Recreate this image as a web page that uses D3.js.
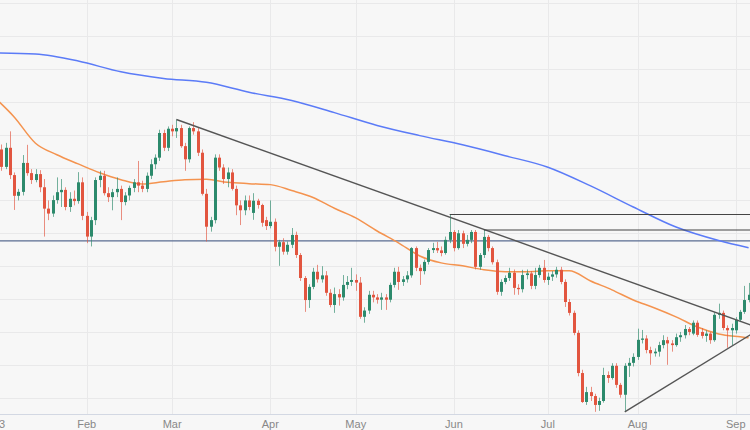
<!DOCTYPE html>
<html><head><meta charset="utf-8">
<script src="https://cdn.jsdelivr.net/npm/d3@7"></script>
<style>html,body{margin:0;padding:0;background:#f7f7f7;}svg{display:block;}</style>
</head><body><svg id="c" width="750" height="430"></svg>
<script>
// ---- data (USD/CHF daily, 2023) ----
const startDate = "2023-01-02", endDate = "2023-09-06";
const open  = [.9245,.9270,.9355,.9302,.9360,.9277,.9214,.9226,.9314,.9283,.9262,.9280,.9240,.9175,.9160,.9201,.9225,.9232,.9180,.9205,.9198,.9255,.9153,.9090,.9140,.9262,.9275,.9222,.9210,.9225,.9235,.9195,.9215,.9238,.9255,.9245,.9235,.9275,.9310,.9330,.9405,.9360,.9418,.9410,.9420,.9365,.9325,.9420,.9410,.9345,.9220,.9120,.9140,.9330,.9300,.9265,.9285,.9235,.9185,.9170,.9200,.9162,.9199,.9186,.9140,.9122,.9135,.9059,.9073,.9044,.9065,.9095,.9034,.8964,.8897,.8937,.8983,.8960,.8972,.8919,.8882,.8915,.8905,.8943,.8952,.8958,.8950,.8846,.8865,.8913,.8905,.8898,.8905,.8898,.8943,.8983,.8952,.8960,.8972,.9055,.8995,.8985,.9013,.9049,.9055,.9048,.9040,.9080,.9104,.9055,.9100,.9068,.9080,.9104,.8998,.9034,.9089,.9055,.9012,.8922,.8952,.8964,.8980,.8934,.8930,.8973,.8978,.8940,.8973,.8995,.8958,.8968,.8975,.8989,.8952,.8891,.8858,.8797,.8675,.8587,.8617,.8605,.8578,.8590,.8669,.8660,.8697,.8639,.8609,.8697,.8706,.8724,.8776,.8780,.8745,.8735,.8740,.8760,.8775,.8765,.8760,.8784,.8790,.8809,.8795,.8828,.8800,.8788,.8795,.8775,.8852,.8858,.8812,.8805,.8805,.8837,.8861,.8897];
const high  = [.9290,.9370,.9370,.9375,.9410,.9285,.9235,.9338,.9369,.9295,.9295,.9292,.9265,.9200,.9215,.9270,.9265,.9240,.9225,.9230,.9286,.9270,.9165,.9150,.9270,.9290,.9290,.9240,.9235,.9270,.9245,.9225,.9245,.9265,.9320,.9260,.9285,.9325,.9340,.9415,.9415,.9425,.9430,.9446,.9430,.9375,.9425,.9438,.9420,.9355,.9235,.9150,.9340,.9340,.9310,.9300,.9295,.9245,.9200,.9215,.9215,.9222,.9205,.9190,.9150,.9200,.9145,.9080,.9085,.9075,.9116,.9105,.9040,.8970,.8945,.8995,.9004,.9000,.8985,.8930,.8935,.8930,.8973,.8970,.8995,.8975,.8967,.8875,.8925,.8925,.8915,.8919,.8915,.8950,.8995,.8998,.8970,.8985,.9058,.9060,.9005,.9020,.9055,.9071,.9074,.9060,.9090,.9157,.9110,.9110,.9108,.9095,.9110,.9110,.9040,.9110,.9095,.9060,.9020,.8960,.8972,.8995,.8990,.8945,.8989,.8990,.8985,.8995,.9004,.9019,.8980,.8985,.8998,.8998,.8960,.8900,.8865,.8805,.8685,.8633,.8633,.8612,.8600,.8691,.8680,.8705,.8705,.8645,.8705,.8721,.8735,.8810,.8806,.8790,.8755,.8750,.8770,.8790,.8785,.8775,.8795,.8800,.8821,.8815,.8835,.8835,.8812,.8805,.8800,.8860,.8886,.8865,.8820,.8825,.8845,.8867,.8940,.8949];
const low   = [.9230,.9260,.9290,.9295,.9265,.9171,.9200,.9215,.9275,.9250,.9255,.9225,.9090,.9140,.9150,.9190,.9180,.9170,.9165,.9185,.9190,.9140,.9070,.9060,.9125,.9240,.9215,.9195,.9170,.9210,.9140,.9185,.9200,.9225,.9225,.9225,.9225,.9265,.9295,.9320,.9350,.9350,.9395,.9390,.9360,.9290,.9315,.9400,.9335,.9215,.9075,.9105,.9130,.9290,.9250,.9240,.9230,.9155,.9125,.9155,.9170,.9141,.9175,.9120,.9110,.9115,.9045,.9001,.9035,.9035,.9055,.9025,.8955,.8861,.8873,.8930,.8950,.8950,.8910,.8875,.8858,.8880,.8895,.8930,.8940,.8925,.8840,.8828,.8855,.8890,.8886,.8867,.8867,.8890,.8935,.8928,.8940,.8950,.8965,.8985,.8943,.8975,.9005,.9040,.9040,.9030,.9035,.9070,.9045,.9050,.9055,.9060,.9070,.8990,.8989,.9025,.9045,.9005,.8913,.8910,.8945,.8955,.8913,.8913,.8920,.8960,.8930,.8930,.8965,.8950,.8943,.8955,.8965,.8945,.8876,.8850,.8790,.8665,.8584,.8578,.8590,.8557,.8560,.8585,.8645,.8655,.8630,.8600,.8557,.8663,.8695,.8715,.8765,.8735,.8700,.8725,.8725,.8750,.8700,.8740,.8755,.8770,.8780,.8790,.8790,.8785,.8780,.8770,.8764,.8770,.8840,.8805,.8752,.8760,.8795,.8830,.8855,.8890];
const close = [.9270,.9355,.9302,.9360,.9277,.9214,.9226,.9314,.9283,.9262,.9280,.9240,.9175,.9160,.9201,.9225,.9232,.9180,.9205,.9198,.9255,.9153,.9090,.9140,.9262,.9275,.9222,.9210,.9225,.9235,.9195,.9215,.9238,.9255,.9245,.9235,.9275,.9310,.9330,.9405,.9360,.9418,.9410,.9420,.9365,.9325,.9420,.9410,.9345,.9220,.9120,.9140,.9330,.9300,.9265,.9285,.9235,.9185,.9170,.9200,.9180,.9199,.9186,.9132,.9122,.9135,.9059,.9073,.9044,.9065,.9095,.9034,.8964,.8897,.8937,.8983,.8960,.8972,.8919,.8882,.8915,.8905,.8943,.8952,.8958,.8950,.8846,.8865,.8913,.8905,.8898,.8905,.8898,.8943,.8983,.8952,.8960,.8972,.9055,.8995,.8985,.9013,.9049,.9055,.9048,.9040,.9080,.9104,.9055,.9100,.9068,.9080,.9104,.8998,.9034,.9089,.9055,.9012,.8922,.8952,.8964,.8980,.8934,.8930,.8973,.8978,.8940,.8973,.8995,.8958,.8968,.8975,.8989,.8952,.8891,.8858,.8797,.8675,.8587,.8617,.8605,.8578,.8590,.8669,.8660,.8697,.8639,.8609,.8697,.8706,.8724,.8776,.8780,.8745,.8735,.8740,.8760,.8775,.8765,.8760,.8784,.8790,.8809,.8800,.8828,.8791,.8788,.8795,.8775,.8852,.8858,.8812,.8805,.8812,.8837,.8861,.8897,.8913];

// moving averages, read at sample candles (candle index)
const sma200Idx = [0,10,20,30,40,50,60,70,80,90,100,110,120,130,140,150,160,170,177];
const sma200Val = [.9649,.9645,.9624,.9591,.9571,.9559,.9529,.9504,.9467,.9428,.9397,.9369,.9336,.9301,.9244,.9180,.9119,.9078,.9056];
const sma50Idx  = [0,5,10,15,20,25,30,35,40,45,50,55,60,65,70,75,80,85,90,95,100,105,110,115,120,125,130,135,140,145,150,155,160,165,170,175,177];
const sma50Val  = [.9518,.9454,.9374,.9339,.9311,.9284,.9263,.9250,.9257,.9263,.9264,.9255,.9251,.9248,.9230,.9209,.9176,.9147,.9107,.9071,.9031,.9010,.9001,.8989,.8983,.8983,.8986,.8986,.8955,.8928,.8897,.8873,.8846,.8815,.8794,.8785,.8782];

// drawn levels: [candle index, price]
const downTrend = [[43,.9446],[178,.8819]];
const upTrend   = [[148,.8557],[178,.8796]];
const supportLevel = .9077;
const resistA = {from:107, price:.9157};
const resistB = {from:115, price:.9110};

const tickDates  = ["2023-01-02","2023-02-01","2023-03-01","2023-04-03","2023-05-01","2023-06-01","2023-07-03","2023-08-01","2023-09-01"];
const tickLabels = ["2023","Feb","Mar","Apr","May","Jun","Jul","Aug","Sep"];
const priceTicks = [.86,.87,.88,.89,.90,.91,.92,.93,.94,.95,.96,.97,.98];

// ---- build ----
const fmt = d3.timeFormat("%Y-%m-%d");
const dates = d3.timeDay.range(new Date(startDate+"T00:00"), d3.timeDay.offset(new Date(endDate+"T00:00"),1))
  .filter(d => d.getDay()!==0 && d.getDay()!==6).map(fmt);
const N = dates.length;

const W = 750, H = 430, plotBottom = 414;
const x = d3.scaleLinear().domain([0, N-1]).range([-7.2, -7.2 + 4.27*(N-1)]);
const y = d3.scaleLinear().domain([0.86, 0.97]).range([397.7, 36]);

const svg = d3.select("#c");
svg.append("rect").attr("width",W).attr("height",H).attr("fill","#f7f7f7");
svg.append("defs").append("clipPath").attr("id","clip").append("rect").attr("x",0).attr("y",0).attr("width",W).attr("height",plotBottom);

const grid = svg.append("g");
grid.selectAll("line.h").data(priceTicks).join("line")
  .attr("x1",0).attr("x2",W).attr("y1",d=>Math.round(y(d))+0.5).attr("y2",d=>Math.round(y(d))+0.5)
  .attr("stroke","#e9e9ea").attr("stroke-width",1);
const tickIdx = tickDates.map(d => dates.indexOf(d));
grid.selectAll("line.v").data(tickIdx).join("line")
  .attr("x1",d=>Math.round(x(d))+0.5).attr("x2",d=>Math.round(x(d))+0.5).attr("y1",0).attr("y2",plotBottom)
  .attr("stroke","#e9e9ea").attr("stroke-width",1);

const plot = svg.append("g").attr("clip-path","url(#clip)");

// support level
plot.append("line").attr("x1",0).attr("x2",W).attr("y1",y(supportLevel)).attr("y2",y(supportLevel))
  .attr("stroke","#5a6d92").attr("stroke-width",1.3);

// moving averages
const maLine = d3.line().x(d=>x(d[0])).y(d=>y(d[1])).curve(d3.curveMonotoneX);
plot.append("path").datum(sma200Idx.map((d,i)=>[d,sma200Val[i]])).attr("d",maLine)
  .attr("fill","none").attr("stroke","#5b7bf7").attr("stroke-width",1.5);
plot.append("path").datum(sma50Idx.map((d,i)=>[d,sma50Val[i]])).attr("d",maLine)
  .attr("fill","none").attr("stroke","#f4934f").attr("stroke-width",1.5);

// candles
const idx = d3.range(N);
const up = i => close[i] >= open[i];
const cUp = "#2c8a6c", cDn = "#e2553f";
plot.selectAll("line.wick").data(idx).join("line")
  .attr("x1",i=>Math.round(x(i))+0.5).attr("x2",i=>Math.round(x(i))+0.5)
  .attr("y1",i=>y(high[i])).attr("y2",i=>y(low[i]))
  .attr("stroke",i=>up(i)?cUp:cDn).attr("stroke-opacity",0.65).attr("stroke-width",1);
plot.selectAll("rect.body").data(idx).join("rect")
  .attr("x",i=>Math.round(x(i))-1).attr("width",3)
  .attr("y",i=>y(Math.max(open[i],close[i])))
  .attr("height",i=>Math.max(1,Math.abs(y(open[i])-y(close[i]))))
  .attr("fill",i=>up(i)?cUp:cDn);

// trend lines and levels
const tl = d3.line().x(d=>x(d[0])).y(d=>y(d[1]));
plot.append("path").datum(downTrend).attr("d",tl).attr("stroke","#555","fill","none").attr("stroke","#555").attr("stroke-width",1.4).attr("fill","none");
plot.append("path").datum(upTrend).attr("d",tl).attr("stroke","#555").attr("stroke-width",1.4).attr("fill","none");
[resistA,resistB].forEach(r=>{
  plot.append("line").attr("x1",x(r.from)).attr("x2",W).attr("y1",y(r.price)).attr("y2",y(r.price))
    .attr("stroke","#444").attr("stroke-width",1.1);
});

// x axis
svg.append("line").attr("x1",0).attr("x2",W).attr("y1",plotBottom+0.5).attr("y2",plotBottom+0.5)
  .attr("stroke","#d3d8e3").attr("stroke-width",1);
svg.selectAll("text.tl").data(tickIdx).join("text")
  .attr("x",d=>x(d)).attr("y",428).attr("text-anchor","middle")
  .attr("font-family","'Liberation Sans', Arial, sans-serif").attr("font-size",11).attr("fill","#888")
  .text((d,i)=>tickLabels[i]);
</script></body></html>
